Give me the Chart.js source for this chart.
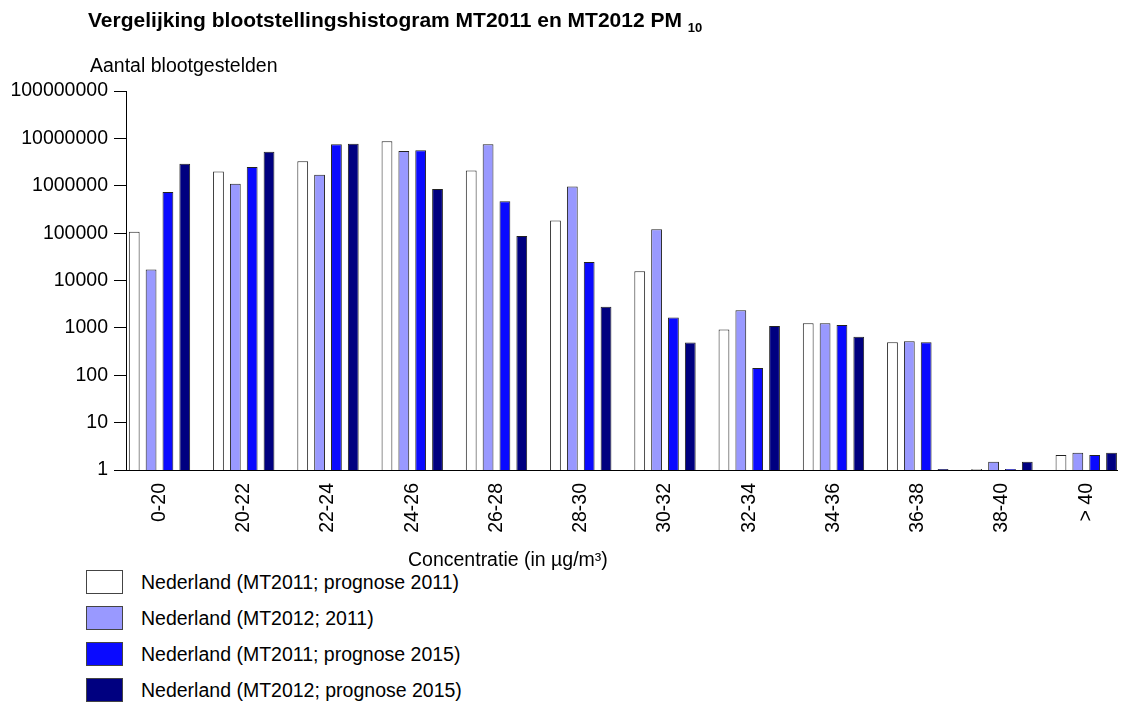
<!DOCTYPE html>
<html>
<head>
<meta charset="utf-8">
<script src="https://cdn.jsdelivr.net/npm/chart.js@4/dist/chart.umd.min.js"></script>
<style>
  body { margin: 0; background: #fff; font-family: 'Liberation Sans', Arial, sans-serif; color: #000; }
  #page { position: relative; width: 1127px; height: 702px; overflow: hidden; }
  #title { position: absolute; left: 88px; top: 9px; font-weight: bold; font-size: 21px; line-height: 1; white-space: nowrap; }
  #title span { font-size: 13px; position: relative; top: 5px; }
  .label { position: absolute; font-size: 19.5px; line-height: 1; white-space: nowrap; }
  #wrap { position: absolute; left: 0; top: 0; width: 1127px; height: 570px; }
  #legend { position: absolute; left: 86px; top: 570px; }
  .item { display: flex; align-items: center; height: 24px; margin-bottom: 12px; font-size: 19.5px; line-height: 24px; white-space: nowrap; }
  .item i { display: inline-block; width: 35px; height: 22px; border: 1px solid #444; margin-right: 18px; }
</style>
</head>
<body>
<div id="page">
  <div id="wrap"><canvas id="chart"></canvas></div>
  <div id="title">Vergelijking blootstellingshistogram MT2011 en MT2012 PM <span>10</span></div>
  <div class="label" style="left:90px; top:56px;">Aantal blootgestelden</div>
  <div class="label" style="left:408px; top:550px;">Concentratie (in µg/m³)</div>
  <div id="legend"></div>
</div>
<script>
// concentration classes (µg/m3)
const categories = ['0-20', '20-22', '22-24', '24-26', '26-28', '28-30', '30-32', '32-34', '34-36', '36-38', '38-40', '> 40'];

// number of exposed people per class
const mt2011Prognose2011 = [107000, 2000000, 3300000, 8700000, 2100000, 185000, 15700, 920, 1250, 495, 1.05, 2.07];
const mt2012Jaar2011 = [17000, 1100000, 1700000, 5400000, 7500000, 970000, 120000, 2350, 1250, 520, 1.5, 2.3];
const mt2011Prognose2015 = [740000, 2500000, 7500000, 5600000, 470000, 24500, 1650, 143, 1150, 495, 1.05, 2.07];
const mt2012Prognose2015 = [2900000, 5200000, 7700000, 850000, 87000, 2800, 490, 1100, 647, 1.05, 1.5, 2.3];

const yTicks = [1, 10, 100, 1000, 10000, 100000, 1000000, 10000000, 100000000];

const series = [
    { label: 'Nederland (MT2011; prognose 2011)', data: mt2011Prognose2011, color: '#ffffff' },
    { label: 'Nederland (MT2012; 2011)', data: mt2012Jaar2011, color: '#9999ff' },
    { label: 'Nederland (MT2011; prognose 2015)', data: mt2011Prognose2015, color: '#0a0aff' },
    { label: 'Nederland (MT2012; prognose 2015)', data: mt2012Prognose2015, color: '#000080' }
];

Chart.defaults.font.family = "'Liberation Sans', Arial, sans-serif";
Chart.defaults.color = '#000';

new Chart(document.getElementById('chart'), {
    type: 'bar',
    data: {
        datasets: series.map(s => ({
            label: s.label,
            data: s.data.map((v, i) => ({ x: i, y: v })),
            backgroundColor: s.color,
            borderColor: '#222',
            borderWidth: 1,
            categoryPercentage: 0.8,
            barPercentage: 0.64
        }))
    },
    options: {
        animation: false,
        responsive: true,
        maintainAspectRatio: false,
        layout: {
            padding: { top: 91, right: 10, left: 0, bottom: 0 }
        },
        plugins: {
            legend: { display: false },
            tooltip: { enabled: false }
        },
        scales: {
            x: {
                type: 'linear',
                offset: false,
                min: -0.3976,
                max: 11.365,
                afterBuildTicks: scale => {
                    scale.ticks = categories.map((c, i) => ({ value: i }));
                },
                afterFit: scale => { scale.height = 100; },
                grid: { display: false, drawTicks: false, offset: false },
                border: { display: true, color: '#000', width: 1 },
                ticks: {
                    autoSkip: false,
                    minRotation: 90,
                    maxRotation: 90,
                    padding: 13,
                    font: { size: 19.5 },
                    callback: v => categories[v]
                }
            },
            y: {
                type: 'logarithmic',
                min: 1,
                max: 100000000,
                afterBuildTicks: scale => {
                    scale.ticks = yTicks.map(v => ({ value: v }));
                },
                afterFit: scale => { scale.width = 126; },
                grid: {
                    drawOnChartArea: false,
                    drawTicks: true,
                    tickLength: 12,
                    color: '#000'
                },
                border: { display: true, color: '#000', width: 1 },
                ticks: {
                    padding: 6,
                    font: { size: 19.5 },
                    callback: v => String(v)
                }
            }
        }
    }
});

// legend, one item per row
const legend = document.getElementById('legend');
series.forEach(s => {
    const row = document.createElement('div');
    row.className = 'item';
    const box = document.createElement('i');
    box.style.background = s.color;
    row.appendChild(box);
    row.appendChild(document.createTextNode(s.label));
    legend.appendChild(row);
});
</script>
</body>
</html>
